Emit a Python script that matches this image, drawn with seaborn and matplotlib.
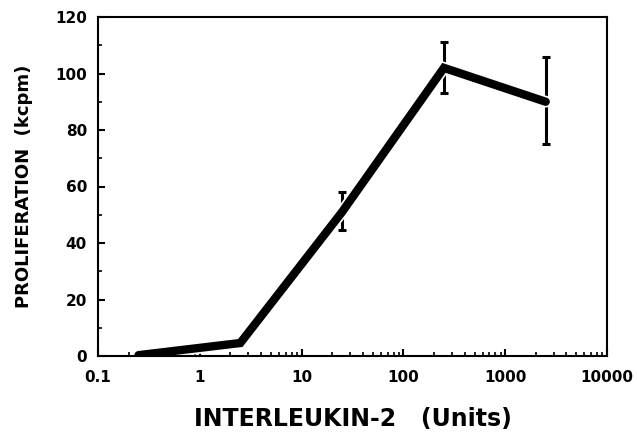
import numpy as np
import pandas as pd
import matplotlib
matplotlib.use("Agg")
import matplotlib.pyplot as plt
import matplotlib.patheffects as pe
import seaborn as sns
from matplotlib.ticker import LogLocator, FixedLocator, NullFormatter

# dados
il2_units = [0.25, 2.5, 25, 250, 2500]
prolif_kcpm = [0.3, 4.6, 51, 102, 90]
err_low = [np.nan, np.nan, 44.5, 93, 75]
err_high = [np.nan, np.nan, 58, 111, 106]

x_ticks = [0.1, 1, 10, 100, 1000, 10000]
x_ticklabels = ["0.1", "1", "10", "100", "1000", "10000"]
y_ticks = [0, 20, 40, 60, 80, 100, 120]

df = pd.DataFrame({"il2": il2_units, "prolif": prolif_kcpm,
                   "lo": err_low, "hi": err_high})

sns.set_style("white", {"text.color": "black", "axes.labelcolor": "black",
                        "xtick.color": "black", "ytick.color": "black",
                        "axes.edgecolor": "black"})
plt.rcParams['font.family'] = ['DejaVu Sans']

fig = plt.figure(figsize=(6.37, 4.34), dpi=100)
ax = fig.add_axes([98 / 637, 1 - 356 / 434, 509 / 637, 339 / 434])

# barras de erro
for _, r in df.dropna().iterrows():
    ax.errorbar(r["il2"], r["prolif"],
                yerr=[[r["prolif"] - r["lo"]], [r["hi"] - r["prolif"]]],
                fmt="none", ecolor="black", elinewidth=2.2, capsize=2.8,
                capthick=2.2, zorder=2)

sns.lineplot(data=df, x="il2", y="prolif", ax=ax, color="black",
             linewidth=6, zorder=2.4, solid_joinstyle="miter",
             path_effects=[pe.Stroke(linewidth=8.5, foreground="white"), pe.Normal()])

ax.set_xscale("log")
ax.set_xlim(0.1, 10000)
ax.set_ylim(0, 120)

ax.xaxis.set_major_locator(FixedLocator(x_ticks))
ax.set_xticklabels(x_ticklabels)
ax.xaxis.set_minor_locator(LogLocator(base=10, subs=np.arange(2, 10)))
ax.xaxis.set_minor_formatter(NullFormatter())
ax.set_yticks(y_ticks)
ax.yaxis.set_minor_locator(FixedLocator(np.arange(10, 120, 20)))

ax.tick_params(axis="x", which="major", pad=10)
ax.tick_params(axis="y", which="major", pad=8)
ax.tick_params(axis="both", which="major", direction="in", length=5, width=1.5,
               labelsize=11, bottom=True, left=True, top=False, right=False)
ax.tick_params(axis="both", which="minor", direction="in", length=3, width=1.2,
               bottom=True, left=True, top=False, right=False)
for lbl in ax.get_xticklabels() + ax.get_yticklabels():
    lbl.set_fontweight("bold")

for s in ax.spines.values():
    s.set_linewidth(1.5)
    s.set_zorder(3)

ax.set_xlabel("INTERLEUKIN-2   (Units)", fontsize=17, fontweight="bold", va="center")
ax.xaxis.set_label_coords(0.5, -0.185)
ax.set_ylabel("PROLIFERATION  (kcpm)", fontsize=13, fontweight="bold", va="center")
ax.yaxis.set_label_coords(-0.145, 0.5)

fig.savefig("out.png", dpi=100)
